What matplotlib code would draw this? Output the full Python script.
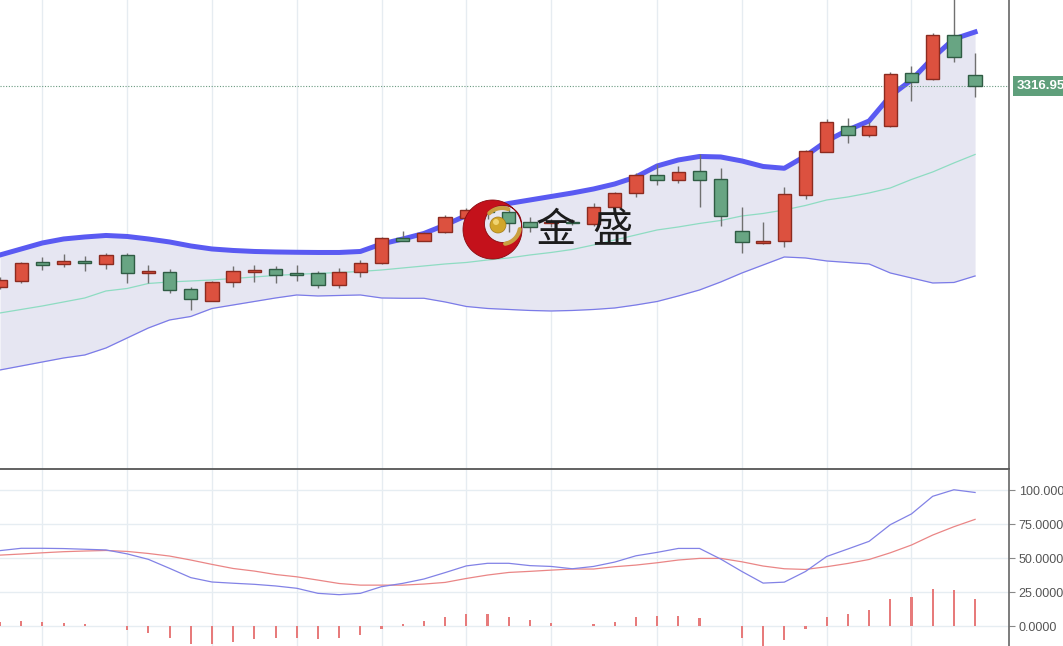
import numpy as np
import matplotlib
matplotlib.use('Agg')
import matplotlib.pyplot as plt
from matplotlib.patches import Circle, PathPatch
from matplotlib.path import Path

# daily candles (price)
opens = [2915, 2927.6, 2965, 2961.6, 2967, 2961.6, 2979.6, 2942.4, 2945.6, 2910.4,
         2887.6, 2924.4, 2945, 2950.4, 2942.4, 2942.4, 2919.6, 2945.6, 2962.4, 3012.4,
         3007.6, 3025, 3053, 3069, 3064, 3045, 3043, 3045, 3041, 3074.4,
         3103.6, 3139, 3129, 3147, 3130.4, 3027, 3003.6, 3007.6, 3099, 3185,
         3237, 3219, 3237, 3343.6, 3331, 3419, 3339]
highs = [2935, 2965, 2975.6, 2981, 2977, 2983.6, 2982.4, 2959.6, 2950.4, 2915.6,
         2927.6, 2957, 2959.6, 2957, 2959.6, 2946.4, 2952.4, 2969, 3014.4, 3027.6,
         3025, 3059.6, 3072.4, 3075.6, 3073, 3054.4, 3051, 3051, 3082, 3105.6,
         3143.6, 3161, 3157, 3180.4, 3152.4, 3075.6, 3044.4, 3115.6, 3189, 3251.6,
         3252.4, 3245.6, 3345.6, 3357, 3423.6, 3500, 3383.6]
lows = [2911, 2923, 2949, 2955.6, 2947.6, 2951, 2923.6, 2923.6, 2902.4, 2869,
        2887.6, 2915.6, 2925, 2923.6, 2927.6, 2913, 2913, 2935.6, 2961, 3007.6,
        3007.6, 3023.6, 3051, 3051, 3025, 3025.6, 3035, 3039, 3037, 3074.4,
        3095.6, 3119, 3122.4, 3074.4, 3037.6, 2983.6, 3001, 2995.6, 3091, 3185,
        3203.6, 3215.6, 3235.6, 3287.6, 3329, 3364.4, 3295.6]
closes = [2929, 2963.6, 2959.6, 2967, 2963.6, 2979.6, 2942.4, 2946.4, 2908.4, 2890.4,
          2925.6, 2947.6, 2949, 2939.6, 2938.4, 2919.6, 2945.6, 2962.4, 3012.4, 3007.6,
          3022.4, 3054.4, 3068, 3064.4, 3043, 3035.6, 3045, 3043, 3075.6, 3102.4,
          3139, 3129.6, 3144.4, 3129, 3057.6, 3005.6, 3007, 3101, 3187, 3245,
          3219, 3237, 3341, 3325.6, 3419, 3375.6, 3316.95]

# bollinger bands
boll_up = [2979, 2991, 3003, 3011, 3015, 3018, 3016, 3011, 3005, 2997,
           2991, 2988, 2986, 2985, 2984.4, 2984, 2984, 2986, 3001, 3011,
           3022, 3039, 3058, 3073, 3082, 3089, 3096, 3103, 3111, 3121,
           3135, 3157, 3169, 3176, 3175, 3167, 3156, 3152.4, 3177, 3207,
           3229, 3247, 3297, 3329, 3373, 3411, 3425]
boll_mid = [2863, 2870, 2877, 2885, 2893, 2907, 2912, 2922, 2925, 2927,
            2929, 2932, 2935, 2938, 2940.4, 2942, 2944, 2946, 2949, 2953,
            2957, 2961, 2964, 2969, 2973, 2979, 2984, 2990, 2999, 3009,
            3019, 3029, 3035, 3042, 3048, 3057, 3062, 3069, 3078, 3089,
            3095, 3103, 3113, 3130, 3145, 3163, 3180]
boll_low = [2749, 2757, 2765, 2773, 2779, 2793, 2813, 2833, 2849, 2856,
            2872, 2879, 2886, 2893, 2899, 2897, 2898, 2899, 2893, 2892.4,
            2892.4, 2885, 2876, 2872, 2870, 2868, 2867, 2868, 2870, 2873,
            2879, 2886, 2897, 2909, 2925, 2943, 2959, 2975, 2973, 2967,
            2964, 2961, 2943, 2933, 2923, 2924, 2937]

# lower panel (K / D / histogram)
k_line = [55.6, 57.3, 57.3, 57.1, 56.6, 56.1, 53.2, 49.2, 42.6, 35.8,
          32.6, 31.7, 30.9, 29.7, 28.0, 24.3, 23.3, 24.3, 29.2, 31.6,
          34.8, 39.5, 44.4, 46.3, 46.3, 44.6, 44.0, 42.3, 44.0, 47.2,
          51.8, 54.3, 57.2, 57.2, 49.4, 40.3, 31.8, 32.5, 40.3, 51.3,
          56.8, 62.4, 74.6, 82.5, 95.4, 100.2, 98.2]
d_line = [52.3, 53.1, 54.0, 54.8, 55.3, 55.7, 55.0, 53.5, 51.6, 48.7,
          45.5, 42.5, 40.6, 38.1, 36.4, 34.0, 31.5, 30.3, 30.3, 30.3,
          31.1, 32.3, 35.2, 37.7, 39.6, 40.4, 41.3, 42.1, 42.1, 43.8,
          45.0, 46.7, 48.7, 49.9, 49.9, 47.4, 44.3, 42.3, 41.8, 43.8,
          46.2, 49.1, 54.0, 59.7, 67.0, 73.1, 78.5]
hist = [3.4, 3.9, 3.2, 2.2, 1.5, 0.7, -2.7, -5.1, -8.8, -12.5,
        -13.0, -11.2, -9.5, -8.8, -8.8, -9.5, -8.8, -6.4, -2.0, 1.7,
        3.7, 6.8, 9.0, 9.0, 6.8, 4.5, 2.9, 0.5, 2.0, 3.4,
        6.8, 7.6, 7.6, 6.1, 0.0, -8.8, -14.2, -10.0, -2.0, 6.6,
        9.5, 12.0, 19.8, 21.3, 27.4, 27.1, 19.8]

grid_idx = [2, 6, 10, 14, 18, 22, 26, 31, 35, 39, 43]
kd_ticks = [0, 25, 50, 75, 100]
last_price = 3316.95
logo_chars = ['金', '盛']

plt.rcParams['font.family'] = ['Liberation Sans', 'DejaVu Sans']

x = np.arange(len(opens))
o = np.array(opens)
c = np.array(closes)
rising = c >= o

fig = plt.figure(figsize=(10.63, 6.46), dpi=100)
ax = fig.add_axes([0, 0.274, 0.9492, 0.726])
ax2 = fig.add_axes([0, 0, 0.9492, 0.2724])

# main panel
for g in grid_idx:
    ax.axvline(g, color='#e6ecf1', lw=1, zorder=0)
ax.fill_between(x, boll_low, boll_up, color='#e6e6f2', lw=0, zorder=1)
ax.plot(x, boll_mid, color='#8edcc2', lw=0.9, zorder=2)
ax.plot(x, boll_low, color='#7b7be8', lw=0.9, zorder=2)
ax.plot(x, boll_up, color='#5a5af2', lw=3.6, zorder=2)
ax.axhline(last_price, color='#6a9a80', lw=0.8, ls=(0, (1, 1.5)), zorder=2)

ax.vlines(x, lows, highs, color='#707070', lw=1, zorder=3)
body = np.maximum(np.abs(c - o), 2.5)
ax.bar(x, body, bottom=np.minimum(o, c), width=0.63,
       color=np.where(rising, '#dc513f', '#68a583'),
       edgecolor=np.where(rising, '#8c2b20', '#2f5c44'), linewidth=1, zorder=4)

ax.set_xlim(0, 47.6)
ax.set_ylim(2550.95, 3488.95)
ax.set_xticks([])
ax.set_yticks([])
for s in ['top', 'left']:
    ax.spines[s].set_visible(False)
ax.spines['bottom'].set_color('#555555')
ax.spines['bottom'].set_linewidth(1.3)
ax.spines['right'].set_color('#666666')
ax.spines['right'].set_linewidth(1.2)

ax.annotate(f'{last_price:.2f}', xy=(1.0, last_price), xycoords=('axes fraction', 'data'),
            xytext=(5.5, 0), textcoords='offset points', ha='left', va='center',
            color='white', fontsize=9.5, fontweight='bold', annotation_clip=False,
            bbox=dict(boxstyle='square,pad=0.3', fc='#5f9f7b', ec='none'))

# lower panel
for g in grid_idx:
    ax2.axvline(g, color='#e6ecf1', lw=1, zorder=0)
for t in kd_ticks:
    ax2.axhline(t, color='#e6edf2', lw=1, zorder=0)
ax2.bar(x, hist, width=0.1, color='#e77b7b', zorder=2)
ax2.plot(x, d_line, color='#ea8686', lw=0.9, zorder=3)
ax2.plot(x, k_line, color='#8282e6', lw=0.9, zorder=3)
ax2.set_xlim(0, 47.6)
ax2.set_ylim(-14.3, 114.65)
ax2.set_xticks([])
ax2.yaxis.tick_right()
ax2.set_yticks(kd_ticks)
ax2.set_yticklabels([f'{t:.4f}' for t in kd_ticks])
ax2.tick_params(axis='y', direction='out', length=4, color='#888888',
                labelcolor='#555555', labelsize=9, pad=3)
for s in ['top', 'left', 'bottom']:
    ax2.spines[s].set_visible(False)
ax2.spines['right'].set_color('#666666')
ax2.spines['right'].set_linewidth(1.2)

# watermark logo (pixel overlay)
ov = fig.add_axes([0, 0, 1, 1], facecolor='none')
ov.set_xlim(0, 1063)
ov.set_ylim(646, 0)
ov.axis('off')
t = np.linspace(0, 2 * np.pi, 120)
outer = np.c_[492.5 + 29.5 * np.cos(t), 229.5 + 29.5 * np.sin(t)]
inner = np.c_[503 + 18.5 * np.cos(t[::-1]), 224 + 18.5 * np.sin(t[::-1])]
codes = ([Path.MOVETO] + [Path.LINETO] * (len(t) - 2) + [Path.CLOSEPOLY]) * 2
ov.add_patch(PathPatch(Path(np.vstack([outer, inner]), codes),
                       fc='#c4111b', ec='#8a0a10', lw=0.6, zorder=5))
ov.add_patch(Circle((498, 225), 8, fc='#d2a62a', ec='#a07a18', lw=0.5, zorder=6))
ov.add_patch(Circle((496, 222), 3, fc='#f0d470', ec='none', zorder=6))
for a0, a1 in [(70, 135), (-80, -10)]:
    ang = np.radians(np.linspace(a0, a1, 30))
    ov.plot(502 + 18 * np.cos(ang), 226 - 18 * np.sin(ang), color='#c9a040',
            lw=3, solid_capstyle='round', zorder=6)
for ch, cx in zip(logo_chars, [556, 612]):
    ov.text(cx, 231, ch, fontsize=29, family=['Noto Sans CJK SC'], ha='center',
            va='center', color='#1c1c1c', zorder=7)

plt.savefig('out.png', dpi=100)
